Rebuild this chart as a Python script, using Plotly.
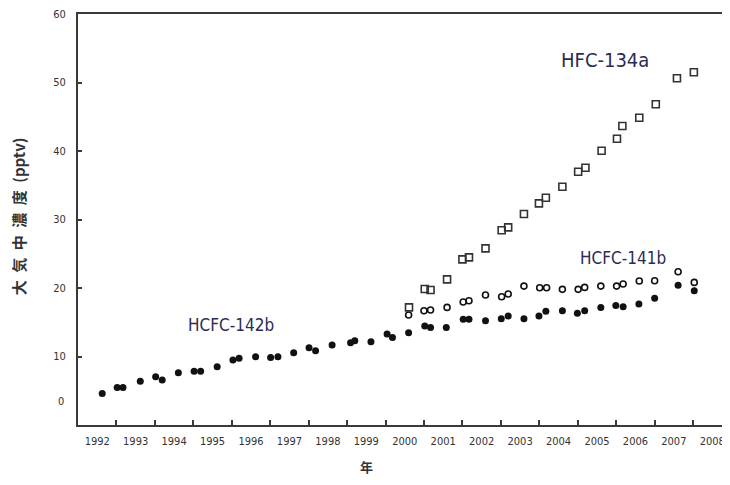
import plotly.graph_objects as go

# ---- data ----
years_142b = [1992.63, 1993.02, 1993.17, 1993.62, 1994.02, 1994.19, 1994.61, 1995.02, 1995.19,
              1995.62, 1996.03, 1996.19, 1996.62, 1997.01, 1997.20, 1997.61, 1998.01, 1998.18,
              1998.61, 1999.09, 1999.20, 1999.62, 2000.04, 2000.18, 2000.60, 2001.02, 2001.17,
              2001.58, 2002.02, 2002.17, 2002.60, 2003.01, 2003.19, 2003.60, 2003.99, 2004.17,
              2004.60, 2004.99, 2005.18, 2005.60, 2005.99, 2006.18, 2006.59, 2007.00, 2007.61,
              2008.03]
hcfc142b = [4.61, 5.49, 5.49, 6.37, 7.04, 6.56, 7.62, 7.83, 7.83,
            8.50, 9.48, 9.73, 9.96, 9.87, 9.96, 10.54, 11.27, 10.84,
            11.67, 12.00, 12.30, 12.15, 13.27, 12.79, 13.46, 14.44, 14.25,
            14.25, 15.42, 15.42, 15.22, 15.51, 15.90, 15.51, 15.90, 16.59,
            16.68, 16.30, 16.68, 17.17, 17.46, 17.26, 17.65, 18.49, 20.39,
            19.60]

years_141b = [2000.60, 2001.00, 2001.17, 2001.60, 2002.02, 2002.17, 2002.60, 2003.02, 2003.19,
              2003.60, 2004.01, 2004.19, 2004.60, 2005.01, 2005.18, 2005.60, 2006.01, 2006.18,
              2006.60, 2007.00, 2007.61, 2008.03]
hcfc141b = [16.05, 16.68, 16.78, 17.17, 17.95, 18.14, 18.97, 18.72, 19.12,
            20.28, 20.04, 20.04, 19.80, 19.80, 20.09, 20.28, 20.28, 20.58,
            21.02, 21.06, 22.37, 20.82]

years_134a = [2000.61, 2001.02, 2001.17, 2001.60, 2002.00, 2002.17, 2002.60, 2003.02, 2003.19,
              2003.60, 2003.99, 2004.17, 2004.60, 2005.01, 2005.20, 2005.62, 2006.02, 2006.16,
              2006.60, 2007.03, 2007.58, 2008.02]
hfc134a = [17.17, 19.85, 19.70, 21.26, 24.18, 24.47, 25.79, 28.42, 28.85,
           30.80, 32.36, 33.18, 34.78, 36.97, 37.56, 40.04, 41.79, 43.65,
           44.86, 46.82, 50.61, 51.49]

year_labels = [str(y) for y in range(1992, 2009)]
year_label_pos = [y + 0.5 for y in range(1992, 2009)]
year_boundaries = list(range(1993, 2009))
y_ticks = [10, 20, 30, 40, 50, 60]

# ---- styling ----
NUM_FONT = "Liberation Sans Narrow, DejaVu Sans Condensed, Arial Narrow, sans-serif"
AXIS_COL = "#3a3a3a"
LBL_COL = "#2b2b55"
TXT_COL = "#333333"

fig = go.Figure()
fig.add_trace(go.Scatter(x=years_142b, y=hcfc142b, mode="markers", name="HCFC-142b",
                         marker=dict(symbol="circle", size=7, color="#111111")))
fig.add_trace(go.Scatter(x=years_141b, y=hcfc141b, mode="markers", name="HCFC-141b",
                         marker=dict(symbol="circle-open", size=6, color="#111111",
                                     line=dict(width=1.6, color="#111111"))))
fig.add_trace(go.Scatter(x=years_134a, y=hfc134a, mode="markers", name="HFC-134a",
                         marker=dict(symbol="square-open", size=7, color="#333333",
                                     line=dict(width=1.6, color="#333333"))))

# the page body adds an 8px offset, so the figure is sized/margined to compensate
fig.update_layout(
    width=722, height=477,
    margin=dict(l=70, r=0, t=6, b=60, autoexpand=False),
    paper_bgcolor="white", plot_bgcolor="white",
    showlegend=False,
    font=dict(family=NUM_FONT, size=11, color=TXT_COL),
)
fig.update_xaxes(
    range=[1992, 2008.96], automargin=False,
    tickmode="array", tickvals=year_label_pos, ticktext=year_labels,
    ticks="", showgrid=False, zeroline=False,
    showline=True, linecolor=AXIS_COL, linewidth=2, mirror=True,
    ticklabelstandoff=5, ticklabeloverflow="allow",
    tickfont=dict(family=NUM_FONT, size=11, color=TXT_COL),
    minor=dict(tickmode="array", tickvals=year_boundaries, ticks="inside",
               ticklen=5, tickwidth=1.5, tickcolor=AXIS_COL, showgrid=False),
)
fig.update_yaxes(
    range=[0, 60], automargin=False,
    tickmode="array", tickvals=y_ticks, ticktext=[str(v) for v in y_ticks],
    ticks="inside", ticklen=4, tickwidth=1.5, tickcolor=AXIS_COL,
    showgrid=False, zeroline=False,
    showline=True, linecolor=AXIS_COL, linewidth=2,
    ticklabelstandoff=8, ticklabeloverflow="allow",
    tickfont=dict(family=NUM_FONT, size=11, color=TXT_COL),
)

# misplaced "0" label as in the original
fig.add_annotation(text="0", xref="paper", x=0, xanchor="right", xshift=-12,
                   yref="y", y=3.4, yanchor="middle", showarrow=False,
                   font=dict(family=NUM_FONT, size=11, color=TXT_COL))

# axis titles
fig.add_annotation(text="<b>大\u2002気\u2002中\u2002濃\u2002度\u2002(pptv)</b>", textangle=-90,
                   xref="paper", x=0, xshift=-60, xanchor="center",
                   yref="paper", y=0.508, yanchor="middle",
                   showarrow=False,
                   font=dict(family="Noto Sans CJK JP", size=15, color=TXT_COL))
fig.add_annotation(text="<b>年</b>", xref="paper", x=0.443, xanchor="center",
                   yref="paper", y=-0.100, yanchor="middle",
                   showarrow=False,
                   font=dict(family="Noto Sans CJK JP", size=13, color=TXT_COL))

# series labels
fig.add_annotation(text="HFC-134a", x=2005.70, y=53.3, showarrow=False,
                   font=dict(family=NUM_FONT, size=20, color=LBL_COL))
fig.add_annotation(text="HCFC-141b", x=2006.18, y=24.4, showarrow=False,
                   font=dict(family=NUM_FONT, size=17, color=LBL_COL))
fig.add_annotation(text="HCFC-142b", x=1995.99, y=14.6, showarrow=False,
                   font=dict(family=NUM_FONT, size=17, color=LBL_COL))

fig.write_html("out.html")
